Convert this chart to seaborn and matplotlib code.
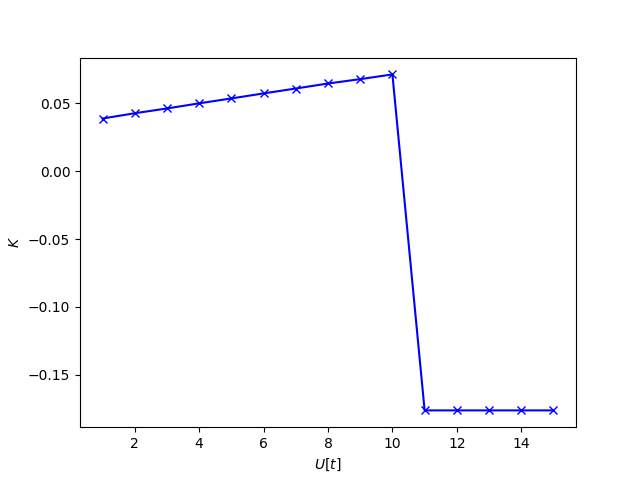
import matplotlib
matplotlib.use("Agg")
import matplotlib.pyplot as plt
import seaborn as sns

# data
u = [1, 2, 3, 4, 5, 6, 7, 8, 9, 10, 11, 12, 13, 14, 15]
k = [0.0388, 0.0427, 0.0462, 0.0500, 0.0536, 0.0573, 0.0609, 0.0646, 0.0678, 0.0713,
     -0.1762, -0.1762, -0.1762, -0.1762, -0.1762]

fig, ax = plt.subplots(figsize=(6.4, 4.8), dpi=100)
sns.lineplot(x=u, y=k, ax=ax, color='blue', marker='x', markersize=6,
             markeredgecolor='blue', markeredgewidth=1.0, linewidth=1.5)
ax.set_xlabel('$U[t]$')
ax.set_ylabel('$K$')

plt.savefig('out.png', dpi=100)
plt.close()
